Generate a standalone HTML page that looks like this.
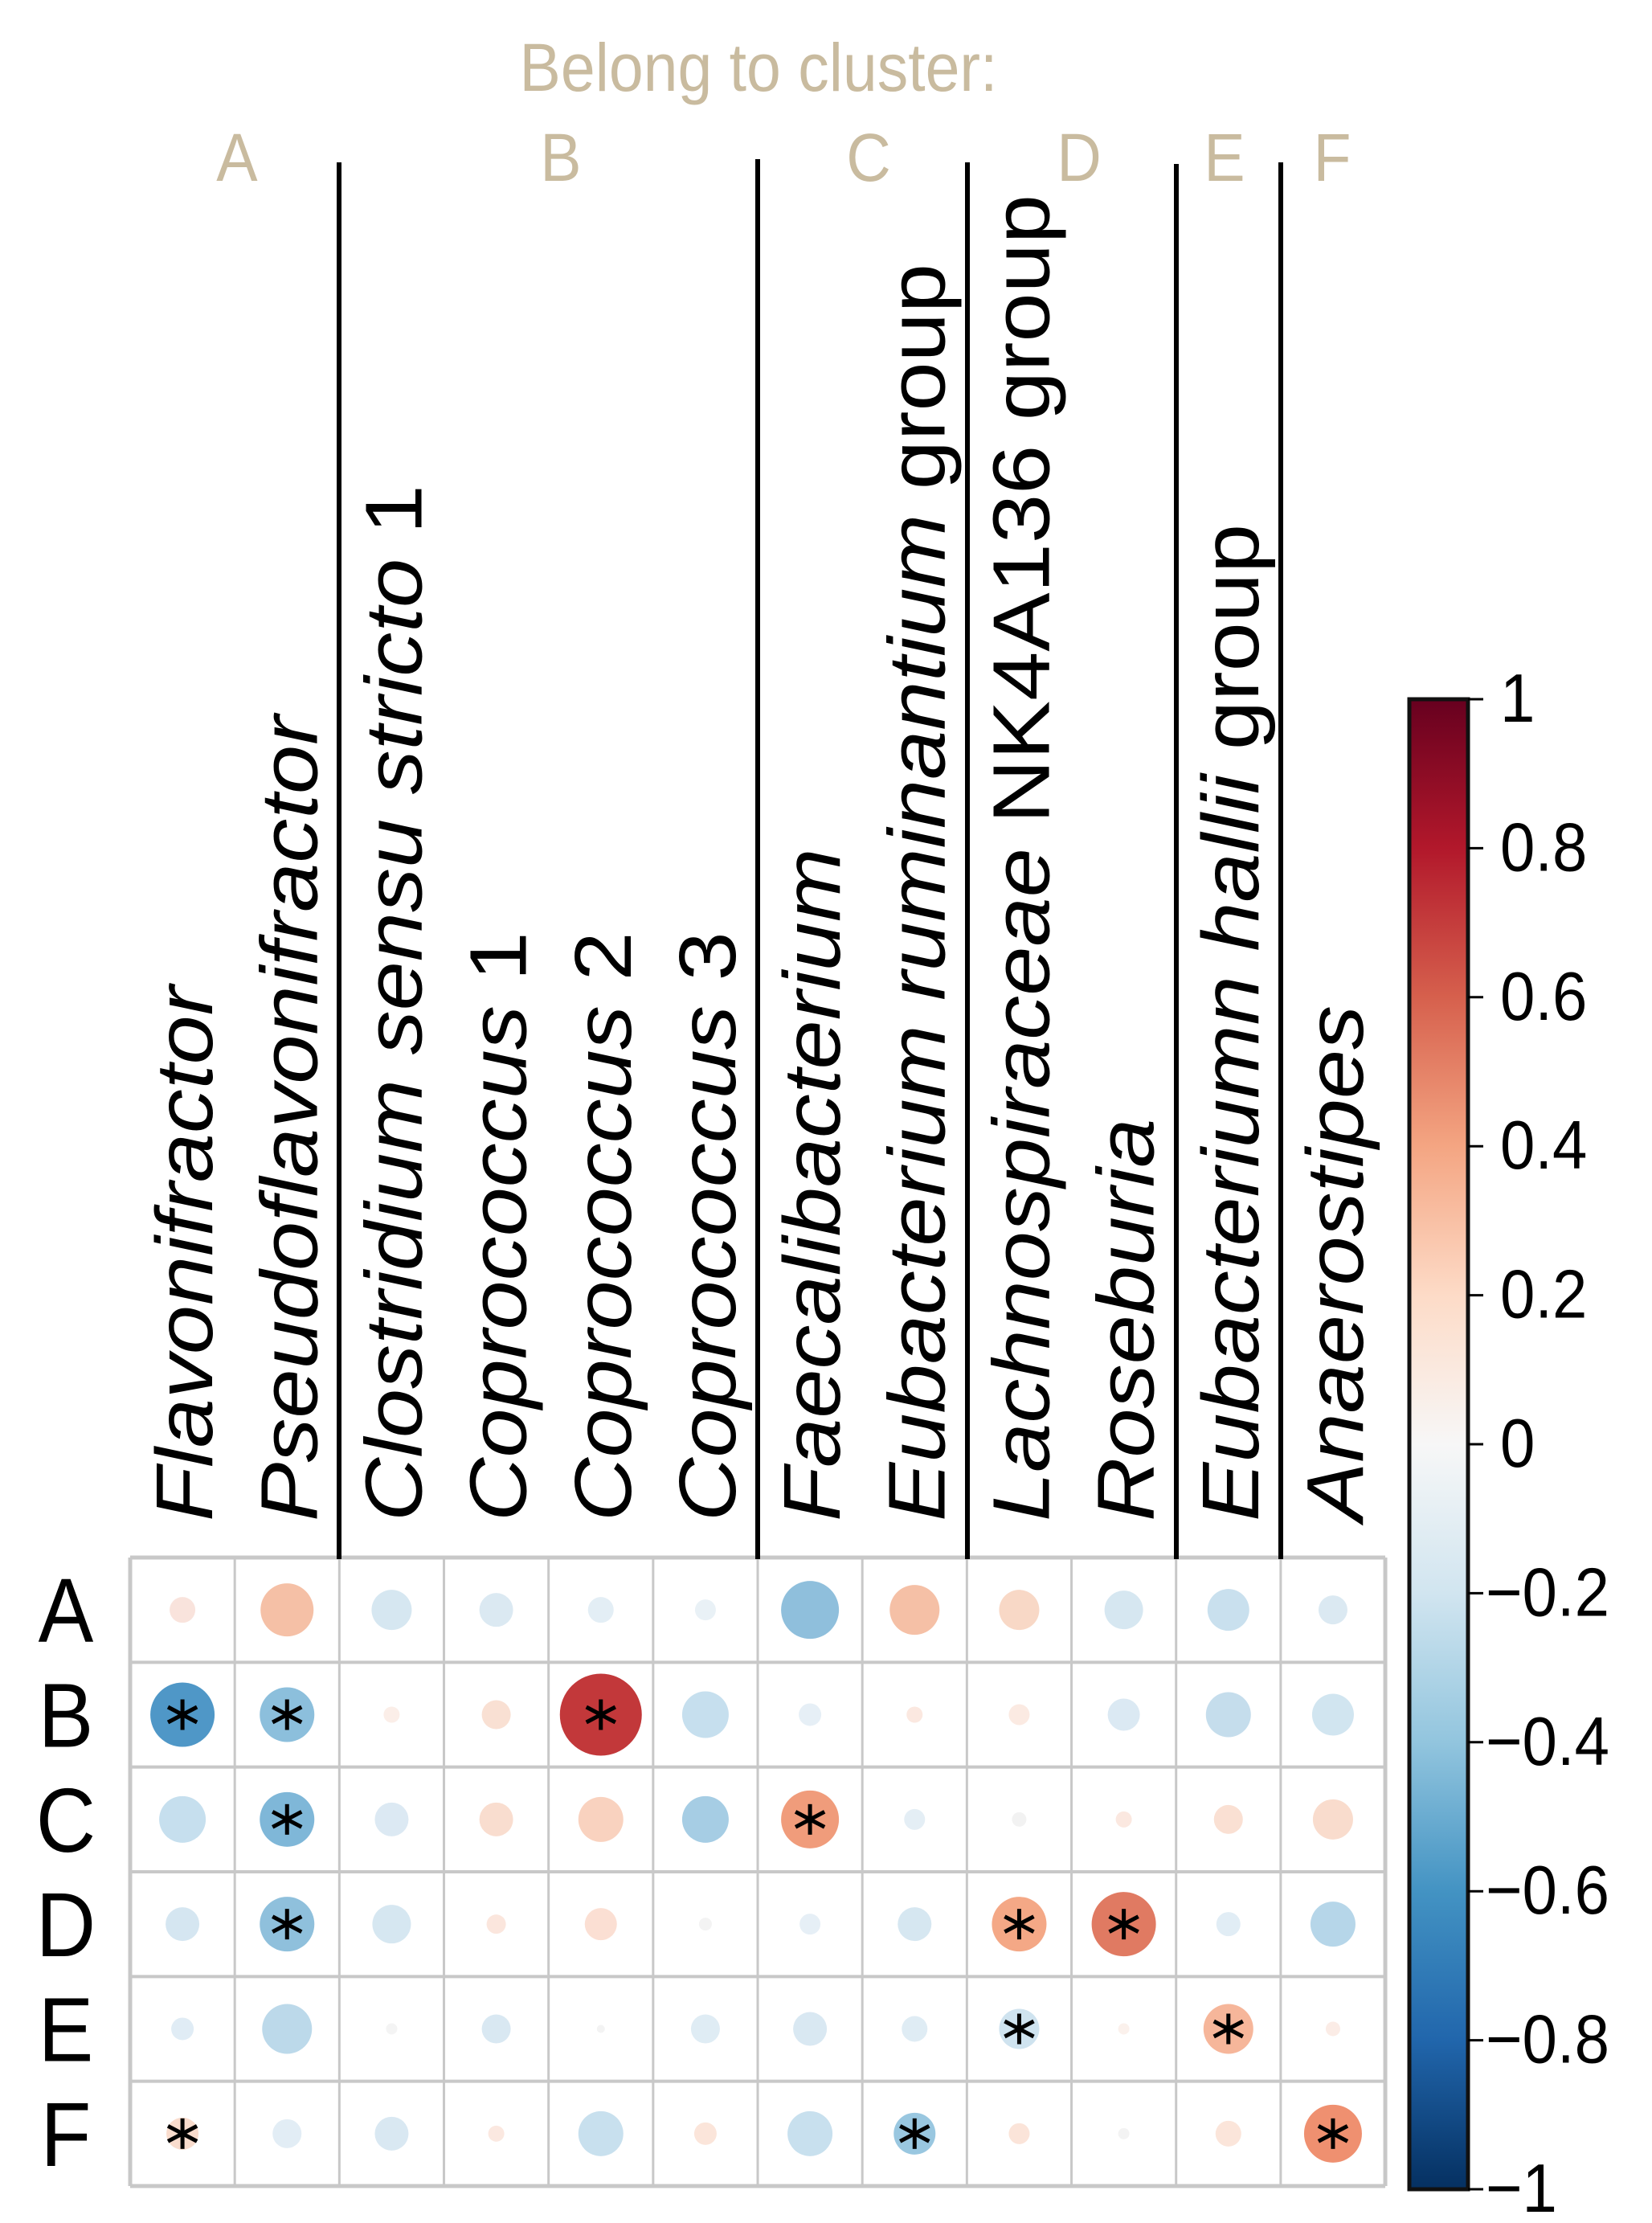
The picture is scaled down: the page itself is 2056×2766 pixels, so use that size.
<!DOCTYPE html>
<html><head><meta charset="utf-8"><style>html,body{margin:0;padding:0;background:#fff}svg{display:block}</style></head>
<body>
<svg id="s" xmlns="http://www.w3.org/2000/svg" width="2056" height="2766" viewBox="0 0 2056 2766" font-family="'Liberation Sans', sans-serif">
<defs>
<linearGradient id="g" x1="0" y1="0" x2="0" y2="1">
<stop offset="0" stop-color="#67001f"/><stop offset="0.1" stop-color="#b2182b"/><stop offset="0.2" stop-color="#d6604d"/><stop offset="0.3" stop-color="#f4a582"/><stop offset="0.4" stop-color="#fddbc7"/><stop offset="0.5" stop-color="#f7f7f7"/><stop offset="0.6" stop-color="#d1e5f0"/><stop offset="0.7" stop-color="#92c5de"/><stop offset="0.8" stop-color="#4393c3"/><stop offset="0.9" stop-color="#2166ac"/><stop offset="1" stop-color="#053061"/>
</linearGradient>
</defs>
<g fill="#c9bb9f" font-size="77">
<text x="944" y="113" text-anchor="middle" transform="translate(0,113) scale(1,1.1) translate(0,-113)">Belong to cluster:</text>
<g transform="translate(0,225) scale(1,1.1) translate(0,-225)">
<text x="295" y="225" text-anchor="middle">A</text>
<text x="698" y="225" text-anchor="middle">B</text>
<text x="1081" y="225" text-anchor="middle">C</text>
<text x="1343" y="225" text-anchor="middle">D</text>
<text x="1524" y="225" text-anchor="middle">E</text>
<text x="1658" y="225" text-anchor="middle">F</text>
</g>
</g>
<g id="labels" font-size="100" fill="#000"></g>
<g id="grid"></g>
<g stroke="#000" stroke-width="6">
<line x1="422" y1="202" x2="422" y2="1940"/>
<line x1="943" y1="198" x2="943" y2="1940"/>
<line x1="1204" y1="202" x2="1204" y2="1940"/>
<line x1="1464" y1="204" x2="1464" y2="1940"/>
<line x1="1594" y1="202" x2="1594" y2="1940"/>
</g>
<g font-size="103" fill="#000" text-anchor="middle" id="rows"></g>
<rect x="1754" y="870" width="73" height="1854" fill="url(#g)" stroke="#111" stroke-width="5"/>
<g id="cb" font-size="78" fill="#000"></g>
</svg>
<script>
var NS="http://www.w3.org/2000/svg";
function el(t,a,p){var e=document.createElementNS(NS,t);for(var k in a)e.setAttribute(k,a[k]);p.appendChild(e);return e;}
var x0=162,y0=1938,cw=130.17,ch=130.33;
var labs=[[["Flavonifractor",1]],[["Pseudoflavonifractor",1]],[["Clostridium sensu stricto",1],[" 1",0]],[["Coprococcus",1],[" 1",0]],[["Coprococcus",1],[" 2",0]],[["Coprococcus",1],[" 3",0]],[["Faecalibacterium",1]],[["Eubacterium ruminantium",1],[" group",0]],[["Lachnospiraceae",1],[" NK4A136 group",0]],[["Roseburia",1]],[["Eubacteriumn hallii",1],[" group",0]],[["Anaerostipes",1]]];
var L=document.getElementById("labels");
labs.forEach(function(l,i){var cx=x0+cw*(i+0.5)+37;
var t=el("text",{transform:"translate("+cx+",1893) rotate(-90) scale(1.1,1)",x:0,y:0},L);
l.forEach(function(p){var s=el("tspan",{"font-style":p[1]?"italic":"normal"},t);s.textContent=p[0];});});
var G=document.getElementById("grid");
var data=[
[[16,"#f9e3dc"],[33,"#f5c0a6"],[25,"#d6e7f1"],[21,"#dbe9f2"],[16,"#e3eef5"],[13,"#e9f1f6"],[36,"#8fbfdc"],[31,"#f5c0a6"],[25,"#f8d8c6"],[24,"#d6e7f1"],[26,"#c9e0ee"],[18,"#dbe9f2"]],
[[40,"#4f97c7",1],[34,"#8cbfdc",1],[10,"#fbeee8"],[18,"#f9e0d3"],[51,"#c2383a",1],[29,"#c6dfee"],[14,"#e6eff6"],[10,"#fbe8e0"],[13,"#fbeae2"],[20,"#dbe9f3"],[28,"#c5ddec"],[26,"#d1e5f0"]],
[[29,"#c6dfee"],[34,"#7fb7d8",1],[21,"#dce9f3"],[21,"#f9ddcf"],[28,"#f9d2bf"],[29,"#a6cde4"],[36,"#f09c7b",1],[13,"#e4eef5"],[9,"#f2f2f2"],[10,"#fbe8e0"],[18,"#fae0d3"],[25,"#f9dccd"]],
[[21,"#d5e6f1"],[34,"#8fc0dc",1],[24,"#d6e7f1"],[12,"#fbe6dd"],[20,"#fbdfd3"],[8,"#f3f3f3"],[13,"#e6eff6"],[21,"#d6e7f1"],[34,"#f4a886",1],[40,"#e07a62",1],[15,"#e1edf5"],[28,"#b6d6e9"]],
[[14,"#e0ecf5"],[31,"#bcd9ea"],[7,"#f4f4f4"],[18,"#d9e8f2"],[5,"#f3f3f3"],[18,"#dfecf4"],[21,"#d9e8f2"],[16,"#dfecf4"],[25,"#cfe3ef",1],[7,"#fbf1ec"],[31,"#f6b69a",1],[9,"#fbece6"]],
[[20,"#f9dccd",1],[18,"#e2edf5"],[21,"#d9e8f2"],[10,"#fbe8e0"],[28,"#c8e0ee"],[14,"#fbe5da"],[28,"#c8e0ee"],[26,"#99c7e0",1],[13,"#fbe4d9"],[7,"#f3f3f3"],[16,"#fbe5da"],[36,"#ef9070",1]]];
for(var i=0;i<=12;i++)el("line",{x1:x0+cw*i,y1:y0,x2:x0+cw*i,y2:y0+ch*6,stroke:"#c8c8c8","stroke-width":(i==0||i==12)?5:3},G);
for(var j=0;j<=6;j++)el("line",{x1:x0,y1:y0+ch*j,x2:x0+cw*12,y2:y0+ch*j,stroke:"#c8c8c8","stroke-width":(j==0||j==6)?5:4},G);
data.forEach(function(r,j){r.forEach(function(c,i){var cx=x0+cw*(i+0.5),cy=y0+ch*(j+0.5);
el("circle",{cx:cx,cy:cy,r:c[0],fill:c[1]},G);
if(c[2]){var a=19;[[0,-a,0,a],[-a*0.95,-a*0.5,a*0.95,a*0.5],[-a*0.95,a*0.5,a*0.95,-a*0.5]].forEach(function(q){el("line",{x1:cx+q[0],y1:cy+q[1],x2:cx+q[2],y2:cy+q[3],stroke:"#000","stroke-width":5},G);});}});});
var R=document.getElementById("rows");
"ABCDEF".split("").forEach(function(ch2,j){var cy=y0+ch*(j+0.5);var by=cy+40;
var t=el("text",{x:82,y:by,transform:"translate(0,"+by+") scale(1,1.1) translate(0,"+(-by)+")"},R);t.textContent=ch2;});
var C=document.getElementById("cb");
var tl=["1","0.8","0.6","0.4","0.2","0","\u22120.2","\u22120.4","\u22120.6","\u22120.8","\u22121"];
tl.forEach(function(s,k){var y=870+k*185.4;
el("line",{x1:1827,y1:y,x2:1846,y2:y,stroke:"#000","stroke-width":3},C);
var by=y+28;var t=el("text",{x:k>5?1849:1867,y:by,transform:"translate(0,"+by+") scale(1,1.1) translate(0,"+(-by)+")"},C);t.textContent=s;});
</script>
</body></html>
